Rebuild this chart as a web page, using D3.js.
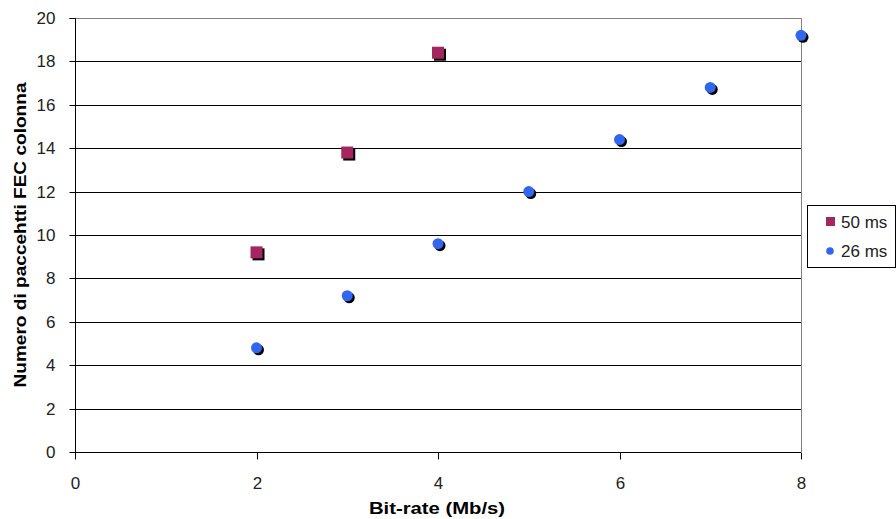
<!DOCTYPE html>
<html>
<head>
<meta charset="utf-8">
<script src="https://cdn.jsdelivr.net/npm/d3@7"></script>
<style>
  body { margin: 0; background: #fff; }
  svg { display: block; font-family: "Liberation Sans", Arial, sans-serif; }
</style>
</head>
<body>
<svg id="chart" width="896" height="519"></svg>
<script>
// Bit-rate (Mb/s) and FEC column packet counts for each delay setting
const bitrate50 = [2, 3, 4];
const fec50 = [9.2, 13.8, 18.4];
const bitrate26 = [2, 3, 4, 5, 6, 7, 8];
const fec26 = [4.8, 7.2, 9.6, 12.0, 14.4, 16.8, 19.2];
const xTicks = [0, 2, 4, 6, 8];
const yTicks = [0, 2, 4, 6, 8, 10, 12, 14, 16, 18, 20];
const seriesNames = ["50 ms", "26 ms"];

const svg = d3.select("#chart");
const plotL = 75, plotR = 801, plotT = 18, plotB = 452;
const FONT = "Liberation Sans, Arial, sans-serif";

const x = d3.scaleLinear().domain([0, 8]).range([plotL, plotR]);
const y = d3.scaleLinear().domain([0, 20]).range([plotB, plotT]);

// horizontal gridlines
svg.append("g").selectAll("line")
  .data(yTicks.filter(t => t > 0 && t < 20))
  .join("line")
  .attr("x1", plotL).attr("x2", plotR)
  .attr("y1", d => Math.round(y(d)) + 0.5).attr("y2", d => Math.round(y(d)) + 0.5)
  .attr("stroke", "#000").attr("stroke-width", 1);

// plot frame (top and right)
svg.append("path")
  .attr("d", `M${plotL},${plotT + 0.5}H${plotR + 0.5}V${plotB}`)
  .attr("fill", "none").attr("stroke", "#808080");

// y axis
const yAxis = svg.append("g")
  .attr("transform", `translate(${plotL + 0.5},0)`)
  .call(d3.axisLeft(y).tickValues(yTicks).tickSize(6).tickPadding(14).tickFormat(d3.format("d")));
yAxis.select(".domain").attr("stroke", "#000").attr("d", `M-6,${plotT + 0.5}H0V${plotB + 0.5}`);
yAxis.selectAll(".tick line").attr("stroke", "#000");
yAxis.selectAll(".tick text").attr("font-size", 17).attr("fill", "#222").attr("font-family", FONT);
yAxis.selectAll(".tick").attr("transform", d => `translate(0,${Math.round(y(d)) + 0.5})`);

// x axis
const xAxis = svg.append("g")
  .attr("transform", `translate(0,${plotB + 0.5})`)
  .call(d3.axisBottom(x).tickValues(xTicks).tickSize(7).tickPadding(17).tickFormat(d3.format("d")));
xAxis.select(".domain").attr("stroke", "#000").attr("d", `M${plotL},0H${plotR}`);
xAxis.selectAll(".tick line").attr("stroke", "#000");
xAxis.selectAll(".tick text").attr("font-size", 17).attr("fill", "#222").attr("font-family", FONT);
xAxis.selectAll(".tick").attr("transform", d => `translate(${Math.round(x(d)) + 0.5},0)`);

// axis titles
svg.append("text")
  .attr("x", 437).attr("y", 514)
  .attr("text-anchor", "middle")
  .attr("font-size", 17).attr("font-weight", "bold")
  .attr("textLength", 136).attr("lengthAdjust", "spacingAndGlyphs")
  .text("Bit-rate (Mb/s)");

svg.append("text")
  .attr("transform", `translate(26,${(plotT + plotB) / 2}) rotate(-90)`)
  .attr("text-anchor", "middle")
  .attr("font-size", 17).attr("font-weight", "bold")
  .attr("textLength", 305).attr("lengthAdjust", "spacingAndGlyphs")
  .text("Numero di paccehtti FEC colonna");

// 26 ms series: blue circles with a dark drop shadow
const pts26 = bitrate26.map((b, i) => ({ b, v: fec26[i] }));
const g26 = svg.append("g");
g26.selectAll("circle.shadow").data(pts26).join("circle")
  .attr("class", "shadow")
  .attr("cx", d => x(d.b) + 2).attr("cy", d => y(d.v) + 2).attr("r", 5.5)
  .attr("fill", "#000");
g26.selectAll("circle.mark").data(pts26).join("circle")
  .attr("class", "mark")
  .attr("cx", d => x(d.b)).attr("cy", d => y(d.v)).attr("r", 5.5)
  .attr("fill", "#3366ee");

// 50 ms series: maroon squares with a dark drop shadow
const pts50 = bitrate50.map((b, i) => ({ b, v: fec50[i] }));
const s = 12;
const g50 = svg.append("g");
g50.selectAll("rect.shadow").data(pts50).join("rect")
  .attr("class", "shadow")
  .attr("x", d => x(d.b) - s / 2 + 2).attr("y", d => y(d.v) - s / 2 + 2)
  .attr("width", s).attr("height", s).attr("fill", "#000");
g50.selectAll("rect.mark").data(pts50).join("rect")
  .attr("class", "mark")
  .attr("x", d => x(d.b) - s / 2).attr("y", d => y(d.v) - s / 2)
  .attr("width", s).attr("height", s).attr("fill", "#a3275e");

// legend
const lg = svg.append("g");
lg.append("rect")
  .attr("x", 807.5).attr("y", 205.5).attr("width", 88).attr("height", 62)
  .attr("fill", "#fff").attr("stroke", "#000");
lg.append("rect").attr("x", 826).attr("y", 217).attr("width", 9).attr("height", 9).attr("fill", "#a3275e");
lg.append("circle").attr("cx", 830).attr("cy", 251).attr("r", 3.8).attr("fill", "#3366ee");
lg.selectAll("text").data(seriesNames).join("text")
  .attr("x", 841).attr("y", (d, i) => 228 + i * 29)
  .attr("font-size", 17).attr("fill", "#222").attr("font-family", FONT)
  .text(d => d);
</script>
</body>
</html>
